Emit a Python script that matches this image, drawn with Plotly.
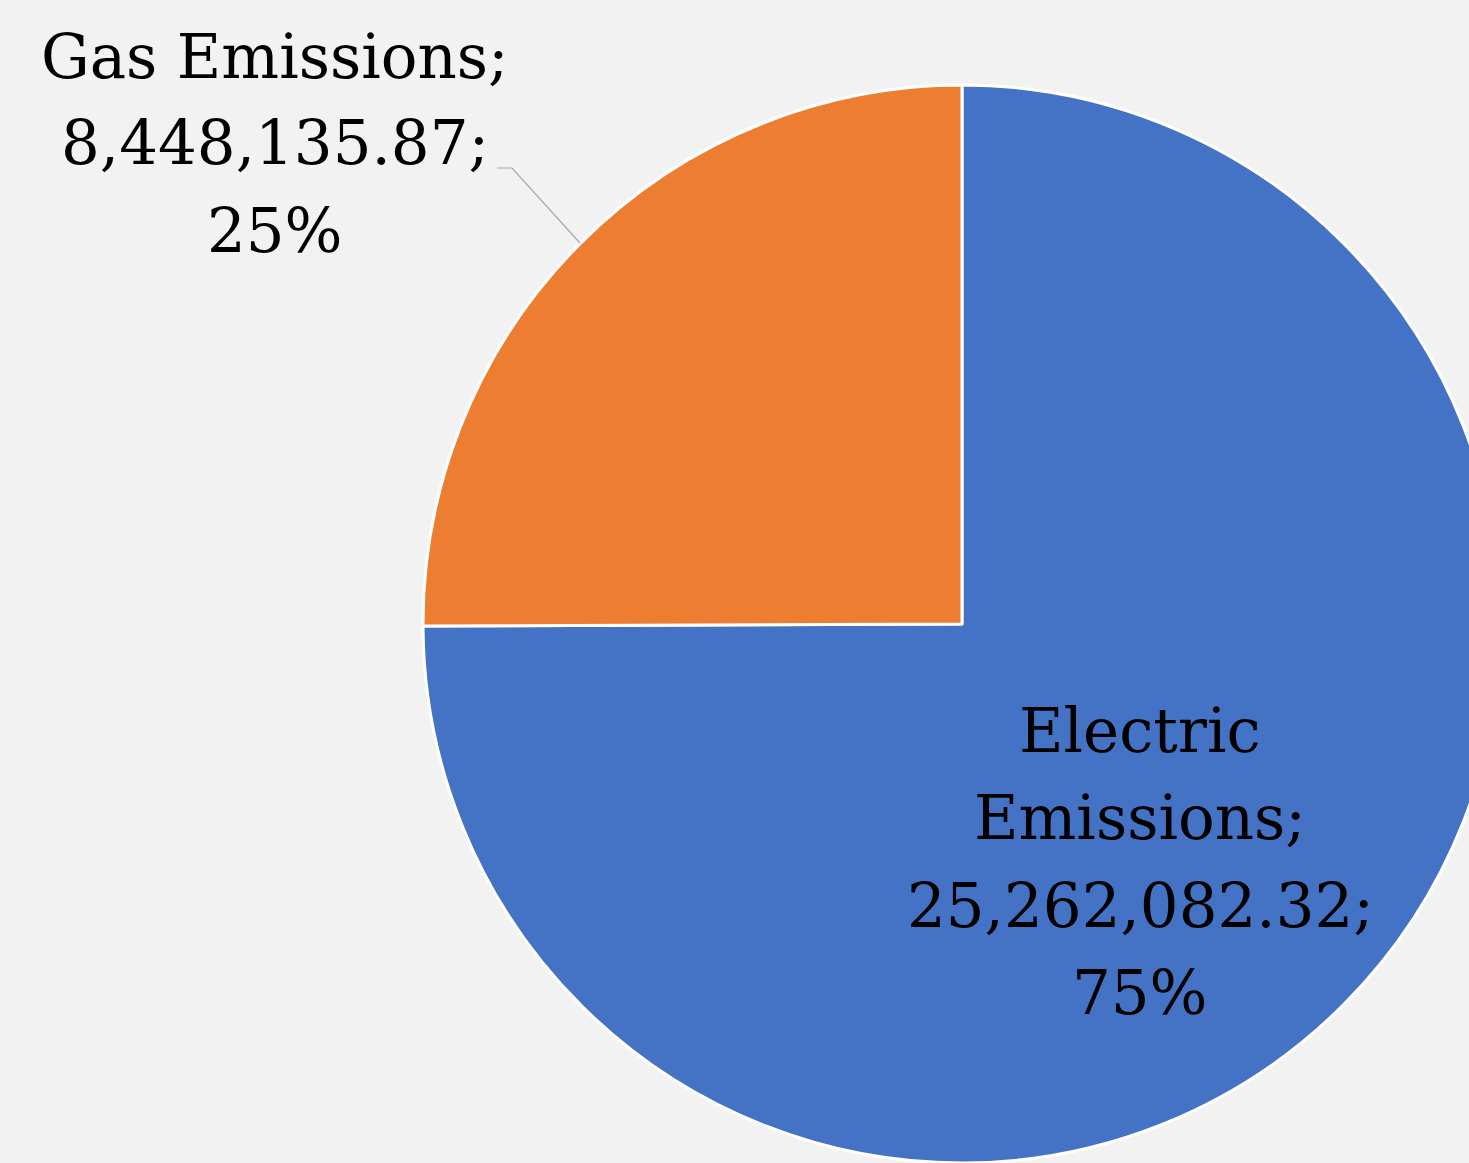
import plotly.graph_objects as go

# Data
categories = ["Electric Emissions", "Gas Emissions"]
values = [25262082.32, 8448135.87]
colors = ["#4472C4", "#ED7D31"]

W, H = 1520, 1163
total = sum(values)

def label_lines(name, v, split_name):
    words = name.split(" ")
    pct = round(v / total * 100)
    if split_name:
        name_lines = [words[0], " ".join(words[1:]) + ";"]
    else:
        name_lines = [name + ";"]
    return name_lines + [f"{v:,.2f};", f"{pct}%"]

fig = go.Figure()
fig.add_trace(go.Pie(
    labels=categories,
    values=values,
    sort=False,
    direction="clockwise",
    rotation=0,
    marker=dict(colors=colors, line=dict(color="white", width=3)),
    textinfo="none",
    hoverinfo="label+value+percent",
    showlegend=False,
    domain=dict(x=[423 / W, 1501 / W], y=[0, 1 - 85 / H]),
))

font = dict(family="DejaVu Serif", size=61, color="black")

def add_label(lines, cx, y0, step):
    for i, t in enumerate(lines):
        fig.add_annotation(
            text=t, x=cx / W, y=1 - (y0 + i * step) / H,
            xref="paper", yref="paper", xanchor="center", yanchor="middle",
            showarrow=False, font=font,
        )

# Electric label (inside)
add_label(label_lines(categories[0], values[0], True), 1140, 730, 87.5)
# Gas label (outside)
add_label(label_lines(categories[1], values[1], False), 275, 56, 87)

# Leader line
fig.add_shape(
    type="path", xref="paper", yref="paper",
    path=f"M {497/W},{1-168/H} L {512/W},{1-168/H} L {580/W},{1-243/H}",
    line=dict(color="#A6A6A6", width=1.2),
)

fig.update_layout(
    width=W, height=H,
    margin=dict(l=0, r=0, t=0, b=0),
    paper_bgcolor="#F2F2F2",
    plot_bgcolor="#F2F2F2",
)

fig.write_html("out.html", post_script="document.body.style.overflow='hidden';document.documentElement.style.overflow='hidden';")
